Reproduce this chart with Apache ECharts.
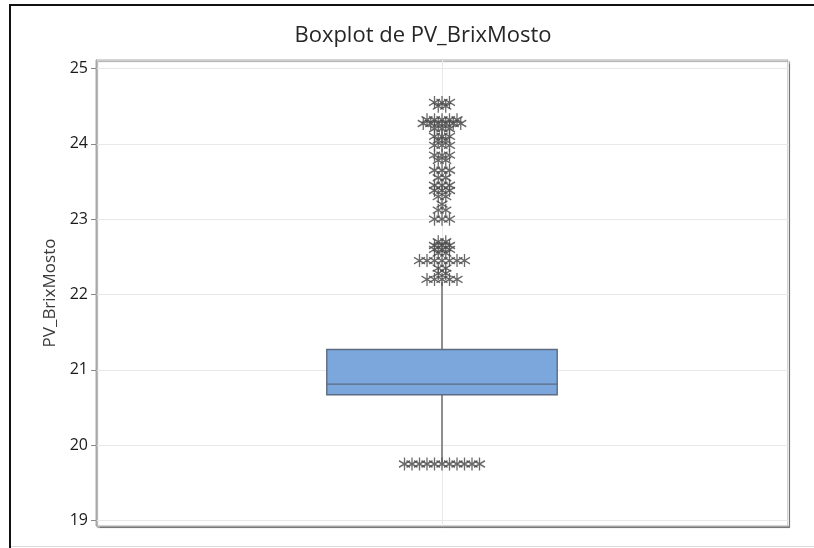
<!DOCTYPE html>
<html>
<head>
<meta charset="utf-8">
<script src="https://cdn.jsdelivr.net/npm/echarts@6/dist/echarts.min.js"></script>
<style>
  html, body { margin: 0; padding: 0; background: #fff; overflow: hidden; }
  #chart { width: 814px; height: 548px; }
</style>
</head>
<body>
<div id="chart"></div>
<script>
// Five-number summary of PV_BrixMosto: lower whisker, Q1, median, Q3, upper whisker
const boxSummary = [19.77, 20.67, 20.81, 21.27, 22.17];

// Outlying observations and how many times each value occurs (ties are spread sideways)
const outlierValues = [24.55, 24.5, 24.32, 24.27, 24.2, 24.1, 24.05, 23.98, 23.85, 23.78,
                       23.65, 23.55, 23.45, 23.38, 23.3, 23.2, 23.12, 23.0, 22.7, 22.65,
                       22.6, 22.55, 22.45, 22.35, 22.28, 22.2, 19.75];
const outlierCounts = [3, 2, 5, 6, 3, 3, 2, 3, 3, 2,
                       3, 2, 3, 3, 2, 1, 2, 3, 2, 3,
                       3, 2, 7, 2, 2, 5, 11];

const yTicks = [19, 20, 21, 22, 23, 24, 25];

const FONT = '"Open Sans", "Noto Sans", sans-serif';
const STAR = 'path://M5,0L5,12M0.6,3L9.4,9M0.6,9L9.4,3';
const TIE_SPACING = 7.5;

// Tied outliers are fanned out symmetrically around the box centre
const outlierData = [];
outlierValues.forEach(function (v, i) {
  const n = outlierCounts[i];
  for (let k = 0; k < n; k++) {
    outlierData.push({ value: [0, v], symbolOffset: [(k - (n - 1) / 2) * TIE_SPACING, 0] });
  }
});

const chart = echarts.init(document.getElementById('chart'));

chart.setOption({
  animation: false,
  backgroundColor: '#fff',
  graphic: [
    // page frame: dark rules on the left and top, faint rule at the bottom
    { type: 'rect', shape: { x: 9, y: 4, width: 2, height: 544 }, style: { fill: '#111' } },
    { type: 'rect', shape: { x: 9, y: 4, width: 805, height: 2 }, style: { fill: '#111' } },
    { type: 'rect', shape: { x: 11, y: 546, width: 803, height: 1 }, style: { fill: '#dddddd' } },
    {
      type: 'text',
      x: 423, y: 36,
      style: {
        text: 'Boxplot de PV_BrixMosto', font: '22px ' + FONT, fill: '#262626',
        align: 'center', verticalAlign: 'middle'
      }
    }
  ],
  grid: {
    left: 96, right: 26, top: 60, bottom: 22,
    show: true, backgroundColor: '#fff',
    borderColor: '#a8a8a8', borderWidth: 1,
    shadowColor: 'rgba(0,0,0,0.35)', shadowBlur: 1, shadowOffsetX: 1.5, shadowOffsetY: 1.5
  },
  xAxis: {
    type: 'value', min: -1, max: 1, interval: 1,
    axisLine: { show: false, onZero: false }, axisTick: { show: false }, axisLabel: { show: false },
    splitLine: { show: true, lineStyle: { color: '#e8e8e8', width: 1 } }
  },
  yAxis: {
    type: 'value', min: 18.927, max: 25.113,
    name: 'PV_BrixMosto', nameLocation: 'middle', nameGap: 36,
    nameTextStyle: { fontFamily: FONT, fontSize: 17, color: '#3a3a3a' },
    axisLine: { show: true, onZero: false, lineStyle: { color: '#a8a8a8', width: 1 } },
    axisTick: { show: true, length: 5, customValues: yTicks, lineStyle: { color: '#888', width: 1 } },
    axisLabel: { customValues: yTicks, fontFamily: FONT, fontSize: 16, color: '#1a1a1a', margin: 8 },
    splitLine: { show: true, lineStyle: { color: '#e8e8e8', width: 1 } }
  },
  series: [
    {
      type: 'custom',
      data: [[0].concat(boxSummary)],
      encode: { x: 0, y: [1, 2, 3, 4, 5] },
      z: 3,
      renderItem: function (params, api) {
        const cx = api.coord([0, api.value(3)])[0];
        const half = params.coordSys.width * 0.1665;
        const yLow = api.coord([0, api.value(1)])[1];
        const yQ1 = api.coord([0, api.value(2)])[1];
        const yMed = api.coord([0, api.value(3)])[1];
        const yQ3 = api.coord([0, api.value(4)])[1];
        const yHigh = api.coord([0, api.value(5)])[1];
        const whisker = { stroke: '#6e6e6e', lineWidth: 1.5 };
        const edge = '#5d6b80';
        return {
          type: 'group',
          children: [
            { type: 'line', shape: { x1: cx, y1: yHigh, x2: cx, y2: yQ3 }, style: whisker },
            { type: 'line', shape: { x1: cx, y1: yQ1, x2: cx, y2: yLow }, style: whisker },
            { type: 'rect', shape: { x: cx - half, y: yQ3, width: 2 * half, height: yQ1 - yQ3 },
              style: { fill: '#7ca7dc', stroke: edge, lineWidth: 1.4 } },
            { type: 'line', shape: { x1: cx - half, y1: yMed, x2: cx + half, y2: yMed },
              style: { stroke: edge, lineWidth: 1.4 } }
          ]
        };
      }
    },
    {
      type: 'scatter',
      data: outlierData,
      symbol: STAR,
      symbolSize: [11, 13],
      z: 4,
      itemStyle: { color: 'rgba(0,0,0,0)', borderColor: '#4d4d4d', borderWidth: 1.4, opacity: 0.85 }
    }
  ]
});
</script>
</body>
</html>
